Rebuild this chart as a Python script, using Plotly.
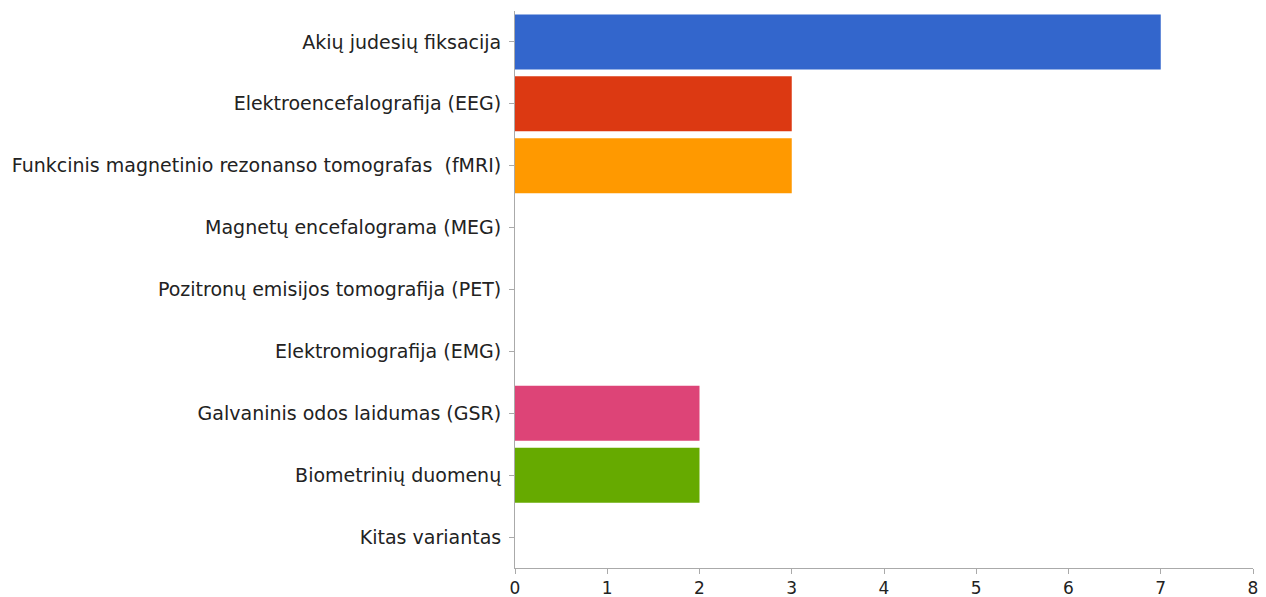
import plotly.graph_objects as go

categories = [
    "Akių judesių fiksacija",
    "Elektroencefalografija (EEG)",
    "Funkcinis magnetinio rezonanso tomografas  (fMRI)",
    "Magnetų encefalograma (MEG)",
    "Pozitronų emisijos tomografija (PET)",
    "Elektromiografija (EMG)",
    "Galvaninis odos laidumas (GSR)",
    "Biometrinių duomenų",
    "Kitas variantas",
]
values = [7, 3, 3, 0, 0, 0, 2, 2, 0]
colors = ["#3366CC", "#DC3912", "#FF9900", "#109618", "#990099",
          "#0099C6", "#DD4477", "#66AA00", "#B82E2E"]
x_ticks = [0, 1, 2, 3, 4, 5, 6, 7, 8]

fig = go.Figure(go.Bar(
    x=values, y=categories, orientation="h",
    marker=dict(color=colors, line=dict(width=0)),
    hoverinfo="x+y",
))

# page body has an 8px margin, so the figure is drawn from (8, 8)
fig.update_layout(
    width=1258, height=589,
    margin=dict(l=507, r=13, t=3, b=29),
    paper_bgcolor="white", plot_bgcolor="white",
    bargap=0.11,
    showlegend=False,
    font=dict(family="DejaVu Sans, Arial, sans-serif", size=19, color="#222222"),
)
fig.update_xaxes(
    range=[0, 8], tickvals=x_ticks, ticktext=[str(t) for t in x_ticks],
    showgrid=False, zeroline=False, showline=True, linecolor="#AAAAAA", linewidth=1,
    ticks="outside", ticklen=5, tickcolor="#AAAAAA", automargin=False,
    tickfont=dict(size=17),
)
fig.update_yaxes(
    categoryorder="array", categoryarray=categories, autorange="reversed",
    showgrid=False, zeroline=False, showline=True, linecolor="#AAAAAA", linewidth=1,
    ticks="outside", ticklen=5, tickcolor="#AAAAAA", ticklabelstandoff=4,
    automargin=False,
)

fig.write_html("out.html")
